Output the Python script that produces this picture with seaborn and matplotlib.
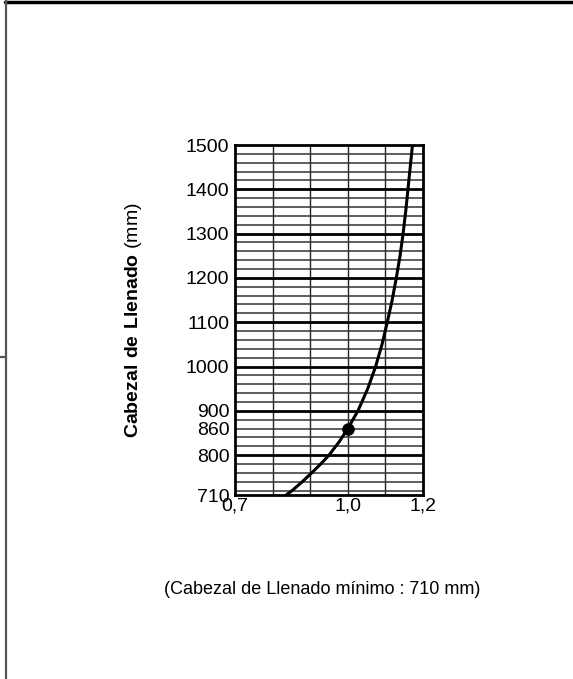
import matplotlib
matplotlib.use("Agg")
import matplotlib.pyplot as plt
import seaborn as sns
import pandas as pd
from matplotlib.lines import Line2D

sns.set_theme(style="white")
plt.rcParams['font.family'] = ['Liberation Sans', 'DejaVu Sans']
plt.rcParams['mathtext.fontset'] = 'custom'
plt.rcParams['mathtext.rm'] = 'Liberation Sans'
plt.rcParams['mathtext.bf'] = 'Liberation Sans:bold'

# Data
head_mm = [710, 720, 740, 760, 780, 800, 830, 860, 900, 950, 1000, 1050, 1100,
           1150, 1200, 1250, 1300, 1350, 1400, 1450, 1500]
factor = [0.836, 0.852, 0.879, 0.904, 0.928, 0.950, 0.977, 1.000, 1.027, 1.053, 1.074,
          1.091, 1.105, 1.118, 1.129, 1.139, 1.147, 1.154, 1.160, 1.166, 1.172]
point_x = [1.0]
point_y = [860]
ytick_vals = [710, 800, 860, 900, 1000, 1100, 1200, 1300, 1400, 1500]
xtick_vals = [0.7, 1.0, 1.2]
xtick_labels = ["0,7", "1,0", "1,2"]
caption = "(Cabezal de Llenado mínimo : 710 mm)"

df = pd.DataFrame({"factor": factor, "head": head_mm})
dp = pd.DataFrame({"x": point_x, "y": point_y})

W, H = 573, 679
fig = plt.figure(figsize=(W / 100, H / 100), dpi=100)
ax = fig.add_axes([235 / W, 1 - 495 / H, (423 - 235) / W, (495 - 145) / H])

ax.set_xlim(0.7, 1.2)
ax.set_ylim(710, 1500)

# grid
for v in [0.8, 0.9, 1.0, 1.1]:
    ax.axvline(v, color="#222222", lw=1.0, zorder=1)
for h in range(720, 1500, 20):
    if h % 100 == 0:
        ax.axhline(h, color="black", lw=2.0, zorder=1)
    else:
        ax.axhline(h, color="#333333", lw=1.1, zorder=1)

sns.lineplot(data=df, x="factor", y="head", sort=False, color="black", lw=2.2, ax=ax, zorder=3)
sns.scatterplot(data=dp, x="x", y="y", color="black", s=70, edgecolor="black", ax=ax, zorder=4)

ax.set_xticks(xtick_vals)
ax.set_xticklabels(xtick_labels)
ax.set_yticks(ytick_vals)
ax.set_yticklabels([str(v) for v in ytick_vals])
ax.tick_params(axis="both", labelsize=14, length=0, colors="black")
ax.tick_params(axis="y", pad=4)
ax.tick_params(axis="x", pad=2)
ax.set_xlabel("")
ax.set_ylabel("")
for s in ax.spines.values():
    s.set_color("black")
    s.set_linewidth(2.0)
    s.set_visible(True)

fig.text(134 / W, 1 - 320 / H, r"$\bf{Cabezal\ de\ Llenado}$ (mm)", rotation=90,
         ha="center", va="center", fontsize=14, color="black")

fig.text(322 / W, 1 - 590 / H, caption, ha="center", va="center", fontsize=13, color="black")

# page decorations
fig.add_artist(Line2D([5 / W, 1], [1 - 1.5 / H, 1 - 1.5 / H], transform=fig.transFigure, color="black", lw=2.5))
fig.add_artist(Line2D([6 / W, 6 / W], [0, 1], transform=fig.transFigure, color="#555555", lw=1.6))
fig.add_artist(Line2D([0, 6 / W], [1 - 357 / H, 1 - 357 / H], transform=fig.transFigure, color="#555555", lw=1.6))

fig.savefig("out.png", dpi=100)
